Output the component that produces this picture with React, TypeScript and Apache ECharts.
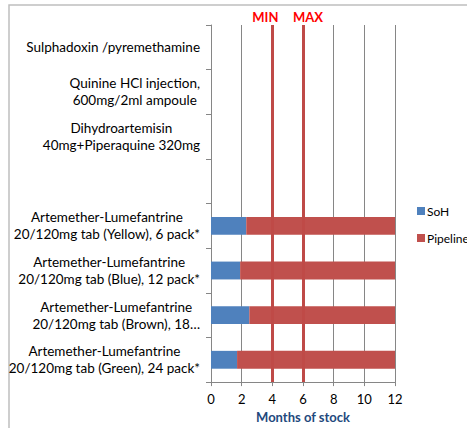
import React, { useEffect, useRef } from "react";
import * as echarts from "echarts";

const categories = [
  "Sulphadoxin /pyremethamine",
  "Quinine HCl injection,\n600mg/2ml ampoule",
  "Dihydroartemisin\n40mg+Piperaquine 320mg",
  "",
  "Artemether-Lumefantrine\n20/120mg tab (Yellow), 6 pack*",
  "Artemether-Lumefantrine\n20/120mg tab (Blue), 12 pack*",
  "Artemether-Lumefantrine\n20/120mg tab (Brown), 18…",
  "Artemether-Lumefantrine\n20/120mg tab (Green), 24 pack*",
];
const sohValues = [null, null, null, null, 2.3, 1.9, 2.5, 1.7];
const pipelineValues = [null, null, null, null, 9.7, 10.1, 9.5, 10.3];
const minMonths = 4;
const maxMonths = 6;
const xTicks = { min: 0, max: 12, interval: 2 };

export default function App() {
  const ref = useRef<HTMLDivElement>(null);
  useEffect(() => {
    document.body.style.margin = "0";
    const chart = echarts.init(ref.current!, null, { renderer: "svg" });
    const font = "Lato, 'Open Sans', sans-serif";
    chart.setOption({
      animation: false,
      textStyle: { fontFamily: font },
      graphic: [
        {
          type: "rect",
          shape: { x: 9, y: 5, width: 700, height: 700 },
          style: { fill: "none", stroke: "#BFBFBF", lineWidth: 1.5 },
          silent: true,
        },
      ],
      legend: {
        orient: "vertical",
        left: 412,
        top: 200,
        itemWidth: 8,
        itemHeight: 8,
        itemGap: 15,
        icon: "rect",
        textStyle: { fontSize: 12, color: "#000", fontFamily: font, padding: [0, 0, 0, -3] },
        data: ["SoH", "Pipeline"],
      },
      grid: { left: 211, right: 72, top: 25, bottom: 37, containLabel: false },
      xAxis: {
        type: "value",
        min: xTicks.min,
        max: xTicks.max,
        interval: xTicks.interval,
        name: "Months of stock",
        nameLocation: "middle",
        nameGap: 26,
        nameTextStyle: { fontWeight: "bold", fontSize: 13, color: "#1F497D", fontFamily: font },
        axisLine: { show: true, lineStyle: { color: "#868686" } },
        axisTick: { show: true, length: 4, lineStyle: { color: "#868686" } },
        axisLabel: { fontSize: 13, color: "#000", margin: 10, fontFamily: font },
        splitLine: { show: true, lineStyle: { color: "#868686", width: 1 } },
      },
      yAxis: {
        type: "category",
        inverse: true,
        data: categories,
        axisLine: { show: true, lineStyle: { color: "#868686" } },
        axisTick: { show: true, length: 5, lineStyle: { color: "#868686" } },
        axisLabel: {
          margin: 11,
          align: "right",
          formatter: (v: string) =>
            v === "" ? "" : v.split("\n").map((l) => `{c|${l}}`).join("\n"),
          rich: {
            c: { align: "center", fontSize: 13.5, lineHeight: 17, color: "#000", fontFamily: font },
          },
        },
      },
      series: [
        {
          name: "SoH",
          type: "bar",
          stack: "total",
          barWidth: "40%",
          itemStyle: { color: "#4F81BD" },
          data: sohValues,
        },
        {
          name: "Pipeline",
          type: "bar",
          stack: "total",
          barWidth: "40%",
          itemStyle: { color: "#C0504D" },
          data: pipelineValues,
          markLine: {
            silent: true,
            symbol: ["none", "none"],
            lineStyle: { color: "#BF4A47", width: 3, type: "solid" },
            label: {
              show: true,
              position: "start",
              distance: 2,
              formatter: "{b}",
              color: "#FF0000",
              fontWeight: "bold",
              fontSize: 13,
              fontFamily: font,
            },
            data: [
              { name: "MIN", xAxis: minMonths, label: { offset: [-7, 0] } },
              { name: "MAX", xAxis: maxMonths, label: { offset: [5, 0] } },
            ],
          },
        },
      ],
    });
    return () => chart.dispose();
  }, []);
  return <div ref={ref} style={{ width: 467, height: 428 }} />;
}
